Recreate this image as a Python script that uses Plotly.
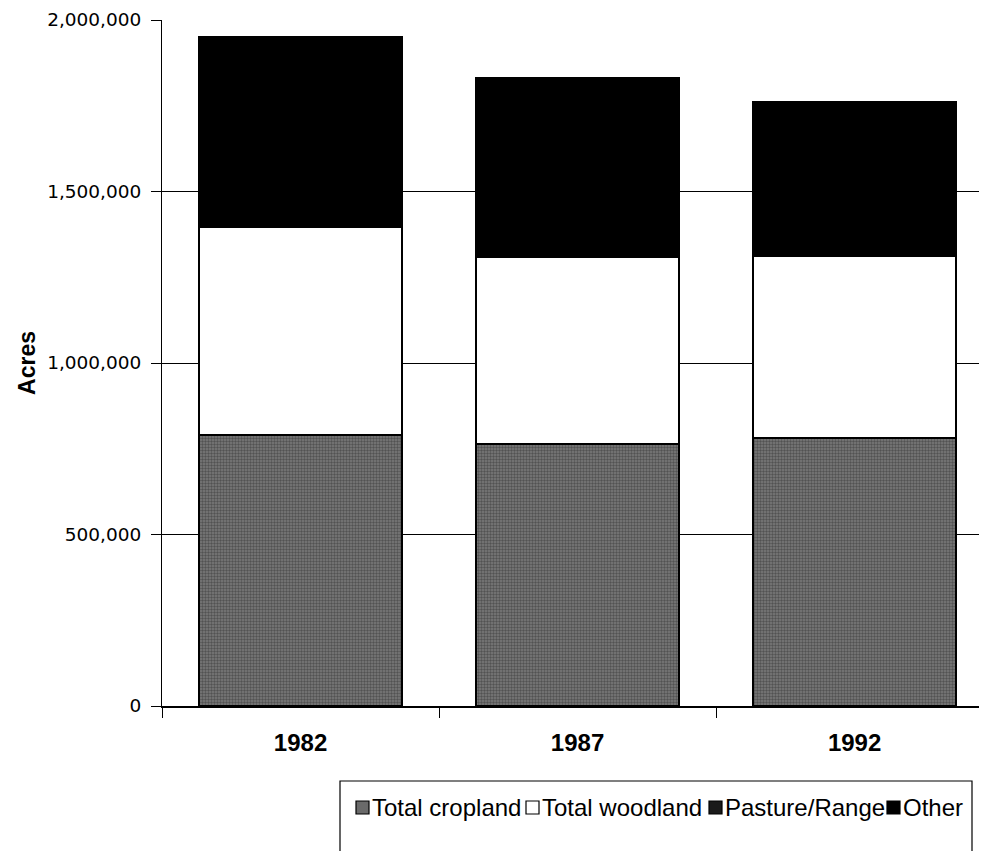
import plotly.graph_objects as go

years = ["1982", "1987", "1992"]
cropland = [790000, 764000, 782000]
woodland = [607000, 546000, 530000]
# NOTE: in the reference, Pasture/Range and Other are both drawn solid black with
# no visible boundary, so only their combined height (~553k, ~521k, ~449k) can be
# read. The split between the two series below is a guess, not a reading.
pasture = [453000, 416000, 338000]
other = [100000, 105000, 111000]
y_ticks = [0, 500000, 1000000, 1500000, 2000000]
y_tick_text = ["0", "500,000", "1,000,000", "1,500,000", "2,000,000"]
legend_names = ["Total cropland", "Total woodland", "Pasture/Range", "Other"]

# page has an 8px body margin; figure sized to fit the window
OFF = 8
W, H = 987 - OFF, 851 - OFF
L, R, T = 162 - OFF, 0, 20 - OFF
PLOT_BOTTOM = 706 - OFF
B = H - PLOT_BOTTOM
PW = W - L - R
PH = PLOT_BOTTOM - T


def px_x(p):
    return (p - OFF - L) / PW


def px_y(p):
    return (PLOT_BOTTOM - (p - OFF)) / PH


fig = go.Figure()
fig.add_bar(x=years, y=cropland, name=legend_names[0],
            marker=dict(color="#7a7a7a", line=dict(color="black", width=2),
                        pattern=dict(shape=".", fgcolor="#2a2a2a", bgcolor="#7a7a7a",
                                     size=3, solidity=0.5)))
fig.add_bar(x=years, y=woodland, name=legend_names[1],
            marker=dict(color="white", line=dict(color="black", width=2)))
fig.add_bar(x=years, y=pasture, name=legend_names[2],
            marker=dict(color="black", line=dict(color="black", width=2)))
fig.add_bar(x=years, y=other, name=legend_names[3],
            marker=dict(color="black", line=dict(color="black", width=2)))

fig.update_layout(
    barmode="stack",
    bargap=0.267,
    width=W, height=H,
    margin=dict(l=L, r=R, t=T, b=B, pad=0),
    paper_bgcolor="white",
    plot_bgcolor="white",
    showlegend=False,
    font=dict(family="Liberation Sans, Arial, sans-serif", color="black"),
)
fig.update_xaxes(
    type="category",
    range=[-0.5, 2.478],
    tickson="boundaries",
    ticks="outside", ticklen=10, tickcolor="black", tickwidth=1,
    showline=True, linecolor="black", linewidth=1.5,
    showgrid=False,
    tickfont=dict(family="Liberation Sans, Arial, sans-serif", size=24, color="black",
                  weight="bold"),
    ticklabelstandoff=14,
)
fig.update_yaxes(
    range=[0, 2000000],
    tickvals=y_ticks, ticktext=y_tick_text,
    ticks="outside", ticklen=10, tickcolor="black", tickwidth=1,
    showline=True, linecolor="black", linewidth=1,
    showgrid=True, gridcolor="black", gridwidth=1,
    zeroline=False,
    tickfont=dict(family="DejaVu Sans, sans-serif", size=18.5, color="black"),
    ticklabelstandoff=6,
    title=dict(text="Acres", standoff=5,
               font=dict(family="Liberation Sans, Arial, sans-serif", size=23,
                         color="black", weight="bold")),
)

# legend box
fig.add_shape(type="rect", xref="paper", yref="paper",
              x0=px_x(340), x1=px_x(972), y0=px_y(880), y1=px_y(781),
              line=dict(color="black", width=1.2), fillcolor="rgba(0,0,0,0)")

sw_fill = ["#6a6a6a", "white", "#1a1a1a", "black"]
sw_x = [356, 526, 709, 887]
for name, fill, sx in zip(legend_names, sw_fill, sw_x):
    fig.add_shape(type="rect", xref="paper", yref="paper",
                  x0=px_x(sx), x1=px_x(sx + 13), y0=px_y(814), y1=px_y(801),
                  line=dict(color="black", width=1.2), fillcolor=fill)
    fig.add_annotation(xref="paper", yref="paper", x=px_x(sx + 14), y=px_y(807),
                       text=name, showarrow=False, xanchor="left", yanchor="middle",
                       font=dict(family="Liberation Sans, Arial, sans-serif", size=24,
                                 color="black"))

fig.write_html("out.html")
